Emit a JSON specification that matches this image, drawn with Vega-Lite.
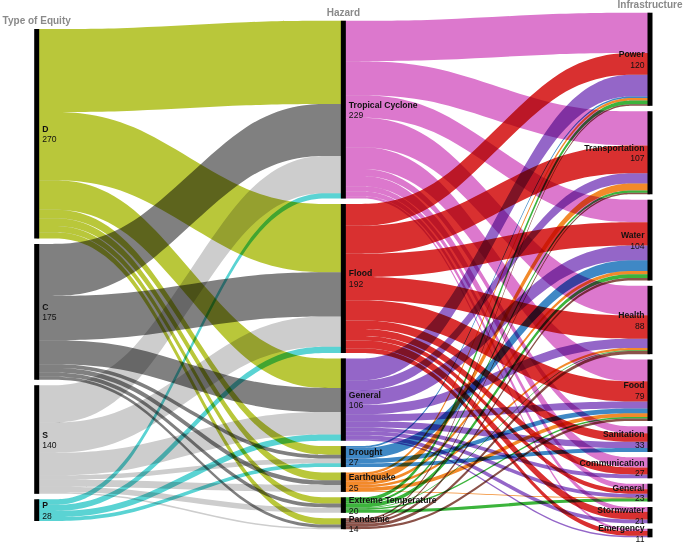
{
  "$schema": "https://vega.github.io/schema/vega-lite/v6.json",
  "width": 613.3,
  "height": 524.6,
  "autosize": {"type": "none"},
  "padding": {"left": 36.7, "right": 35, "top": 12.7, "bottom": 5.7},
  "background": "white",
  "config": {"view": {"stroke": null}},
  "data": {
    "values": [
      {"c": 0, "s": "D", "t": "Tropical Cyclone", "v": 107},
      {"c": 0, "s": "D", "t": "Flood", "v": 88},
      {"c": 0, "s": "D", "t": "General", "v": 38},
      {"c": 0, "s": "D", "t": "Drought", "v": 11},
      {"c": 0, "s": "D", "t": "Earthquake", "v": 10},
      {"c": 0, "s": "D", "t": "Extreme Temperature", "v": 8},
      {"c": 0, "s": "D", "t": "Pandemic", "v": 8},
      {"c": 0, "s": "C", "t": "Tropical Cyclone", "v": 67},
      {"c": 0, "s": "C", "t": "Flood", "v": 57},
      {"c": 0, "s": "C", "t": "General", "v": 31},
      {"c": 0, "s": "C", "t": "Drought", "v": 5},
      {"c": 0, "s": "C", "t": "Earthquake", "v": 6},
      {"c": 0, "s": "C", "t": "Extreme Temperature", "v": 5},
      {"c": 0, "s": "C", "t": "Pandemic", "v": 4},
      {"c": 0, "s": "S", "t": "Tropical Cyclone", "v": 48},
      {"c": 0, "s": "S", "t": "Flood", "v": 39},
      {"c": 0, "s": "S", "t": "General", "v": 29},
      {"c": 0, "s": "S", "t": "Drought", "v": 6},
      {"c": 0, "s": "S", "t": "Earthquake", "v": 9},
      {"c": 0, "s": "S", "t": "Extreme Temperature", "v": 7},
      {"c": 0, "s": "S", "t": "Pandemic", "v": 2},
      {"c": 0, "s": "P", "t": "Tropical Cyclone", "v": 7},
      {"c": 0, "s": "P", "t": "Flood", "v": 8},
      {"c": 0, "s": "P", "t": "General", "v": 8},
      {"c": 0, "s": "P", "t": "Drought", "v": 5},
      {"c": 1, "s": "Tropical Cyclone", "t": "Power", "v": 52},
      {"c": 1, "s": "Tropical Cyclone", "t": "Transportation", "v": 44},
      {"c": 1, "s": "Tropical Cyclone", "t": "Water", "v": 29},
      {"c": 1, "s": "Tropical Cyclone", "t": "Health", "v": 38},
      {"c": 1, "s": "Tropical Cyclone", "t": "Food", "v": 28},
      {"c": 1, "s": "Tropical Cyclone", "t": "Sanitation", "v": 9},
      {"c": 1, "s": "Tropical Cyclone", "t": "Communication", "v": 13},
      {"c": 1, "s": "Tropical Cyclone", "t": "General", "v": 7},
      {"c": 1, "s": "Tropical Cyclone", "t": "Stormwater", "v": 6},
      {"c": 1, "s": "Tropical Cyclone", "t": "Emergency", "v": 3},
      {"c": 1, "s": "Flood", "t": "Power", "v": 28},
      {"c": 1, "s": "Flood", "t": "Transportation", "v": 36},
      {"c": 1, "s": "Flood", "t": "Water", "v": 30},
      {"c": 1, "s": "Flood", "t": "Health", "v": 30},
      {"c": 1, "s": "Flood", "t": "Food", "v": 26},
      {"c": 1, "s": "Flood", "t": "Sanitation", "v": 11},
      {"c": 1, "s": "Flood", "t": "Communication", "v": 9},
      {"c": 1, "s": "Flood", "t": "General", "v": 6},
      {"c": 1, "s": "Flood", "t": "Stormwater", "v": 10},
      {"c": 1, "s": "Flood", "t": "Emergency", "v": 6},
      {"c": 1, "s": "General", "t": "Power", "v": 28},
      {"c": 1, "s": "General", "t": "Transportation", "v": 13},
      {"c": 1, "s": "General", "t": "Water", "v": 19},
      {"c": 1, "s": "General", "t": "Health", "v": 12},
      {"c": 1, "s": "General", "t": "Food", "v": 9},
      {"c": 1, "s": "General", "t": "Sanitation", "v": 8},
      {"c": 1, "s": "General", "t": "Communication", "v": 5},
      {"c": 1, "s": "General", "t": "General", "v": 5},
      {"c": 1, "s": "General", "t": "Stormwater", "v": 5},
      {"c": 1, "s": "General", "t": "Emergency", "v": 2},
      {"c": 1, "s": "Drought", "t": "Power", "v": 2},
      {"c": 1, "s": "Drought", "t": "Water", "v": 14},
      {"c": 1, "s": "Drought", "t": "Food", "v": 6},
      {"c": 1, "s": "Drought", "t": "Sanitation", "v": 5},
      {"c": 1, "s": "Earthquake", "t": "Power", "v": 3},
      {"c": 1, "s": "Earthquake", "t": "Transportation", "v": 9},
      {"c": 1, "s": "Earthquake", "t": "Water", "v": 4},
      {"c": 1, "s": "Earthquake", "t": "Health", "v": 3},
      {"c": 1, "s": "Earthquake", "t": "Food", "v": 5},
      {"c": 1, "s": "Earthquake", "t": "General", "v": 1},
      {"c": 1, "s": "Extreme Temperature", "t": "Power", "v": 5},
      {"c": 1, "s": "Extreme Temperature", "t": "Transportation", "v": 3},
      {"c": 1, "s": "Extreme Temperature", "t": "Water", "v": 5},
      {"c": 1, "s": "Extreme Temperature", "t": "Health", "v": 1},
      {"c": 1, "s": "Extreme Temperature", "t": "Food", "v": 2},
      {"c": 1, "s": "Extreme Temperature", "t": "General", "v": 4},
      {"c": 1, "s": "Pandemic", "t": "Power", "v": 2},
      {"c": 1, "s": "Pandemic", "t": "Transportation", "v": 2},
      {"c": 1, "s": "Pandemic", "t": "Water", "v": 3},
      {"c": 1, "s": "Pandemic", "t": "Health", "v": 4},
      {"c": 1, "s": "Pandemic", "t": "Food", "v": 3}
    ]
  },
  "transform": [
    {"window": [{"op": "row_number", "as": "lid"}]},
    {"calculate": "datum.s", "as": "src"},
    {"fold": ["s", "t"], "as": ["role", "name"]},
    {"calculate": "datum.role === 's' ? datum.c : datum.c + 1", "as": "col"},
    {"joinaggregate": [{"op": "sum", "field": "v", "as": "tot"}], "groupby": ["col", "name", "role"]},
    {"window": [{"op": "dense_rank", "as": "idx"}], "sort": [{"field": "tot", "order": "descending"}], "groupby": ["col"]},
    {"window": [{"op": "sum", "field": "v", "as": "cumIncl"}], "sort": [{"field": "tot", "order": "descending"}], "groupby": ["col", "role"], "frame": [null, 0], "ignorePeers": false},
    {"joinaggregate": [{"op": "max", "field": "idx", "as": "n"}], "groupby": ["col"]},
    {"calculate": "(10 - datum.n) * 7 / 2 + (datum.cumIncl - datum.tot) + 7 * (datum.idx - 1)", "as": "ntop"},
    {"calculate": "datum.role === 's' ? datum.tot : 0", "as": "sT"},
    {"calculate": "datum.role === 't' ? datum.tot : 0", "as": "tT"},
    {"joinaggregate": [{"op": "max", "field": "sT", "as": "srcTot"}, {"op": "max", "field": "tT", "as": "tgtTot"}], "groupby": ["lid"]},
    {"calculate": "datum.role === 's' ? datum.tgtTot : datum.srcTot", "as": "other"},
    {"window": [{"op": "sum", "field": "v", "as": "inner"}], "sort": [{"field": "other", "order": "descending"}], "groupby": ["col", "name", "role"], "frame": [null, 0], "ignorePeers": false},
    {"calculate": "datum.ntop + datum.inner - datum.v", "as": "ya"},
    {"calculate": "datum.ntop + datum.inner", "as": "yb"}
  ],
  "layer": [
    {
      "transform": [
        {"calculate": "datum.c", "as": "pa"},
        {"calculate": "datum.c + 1", "as": "pb"},
        {"fold": ["pa", "pb"], "as": ["k2", "n2"]},
        {"calculate": "datum.role === 's' ? (datum.k2 === 'pa' ? datum.c : datum.c + 0.3) : (datum.k2 === 'pa' ? datum.c + 1 : datum.c + 0.7)", "as": "px"}
      ],
      "mark": {"type": "area", "interpolate": "basis", "opacity": 1, "blend": "multiply"},
      "encoding": {
        "x": {"field": "px", "type": "quantitative", "scale": {"domain": [0, 2], "nice": false, "zero": false}, "axis": null},
        "y": {"field": "ya", "type": "quantitative", "scale": {"domain": [0, 676], "reverse": true, "nice": false, "zero": false}, "axis": null},
        "y2": {"field": "yb"},
        "color": {
          "field": "src",
          "type": "nominal",
          "legend": null,
          "scale": {
            "domain": ["D", "C", "S", "P", "Tropical Cyclone", "Flood", "General", "Drought", "Earthquake", "Extreme Temperature", "Pandemic"],
            "range": ["#b9c73a", "#808080", "#cdcdcd", "#5ad3d3", "#dc78cd", "#d93030", "#9466c8", "#3f88c5", "#f28a2a", "#3cb43c", "#8b5249"]
          }
        },
        "detail": {"field": "lid", "type": "nominal"}
      }
    },
    {
      "transform": [
        {"aggregate": [{"op": "min", "field": "ntop", "as": "top"}, {"op": "max", "field": "tot", "as": "tt"}], "groupby": ["col", "name"]},
        {"calculate": "datum.top + datum.tt", "as": "bot"}
      ],
      "mark": {"type": "rule", "strokeWidth": 5, "color": "#000000"},
      "encoding": {
        "x": {"field": "col", "type": "quantitative", "scale": {"domain": [0, 2]}},
        "y": {"field": "top", "type": "quantitative"},
        "y2": {"field": "bot"}
      }
    },
    {
      "transform": [
        {"aggregate": [{"op": "min", "field": "ntop", "as": "top"}, {"op": "max", "field": "tot", "as": "tt"}], "groupby": ["col", "name"]},
        {"calculate": "datum.top + datum.tt / 2", "as": "mid"},
        {"filter": "datum.col < 2"}
      ],
      "mark": {"type": "text", "align": "left", "baseline": "middle", "dx": 5.5, "dy": -5, "font": "Liberation Sans", "fontWeight": "bold", "fontSize": 8.6, "color": "#111111"},
      "encoding": {
        "x": {"field": "col", "type": "quantitative"},
        "y": {"field": "mid", "type": "quantitative"},
        "text": {"field": "name"}
      }
    },
    {
      "transform": [
        {"aggregate": [{"op": "min", "field": "ntop", "as": "top"}, {"op": "max", "field": "tot", "as": "tt"}], "groupby": ["col", "name"]},
        {"calculate": "datum.top + datum.tt / 2", "as": "mid"},
        {"filter": "datum.col < 2"}
      ],
      "mark": {"type": "text", "align": "left", "baseline": "middle", "dx": 5.5, "dy": 5.5, "font": "Liberation Sans", "fontSize": 8.6, "color": "#111111"},
      "encoding": {
        "x": {"field": "col", "type": "quantitative"},
        "y": {"field": "mid", "type": "quantitative"},
        "text": {"field": "tt", "type": "quantitative", "format": "d"}
      }
    },
    {
      "transform": [
        {"aggregate": [{"op": "min", "field": "ntop", "as": "top"}, {"op": "max", "field": "tot", "as": "tt"}], "groupby": ["col", "name"]},
        {"calculate": "datum.top + datum.tt / 2", "as": "mid"},
        {"filter": "datum.col == 2"}
      ],
      "mark": {"type": "text", "align": "right", "baseline": "middle", "dx": -5.5, "dy": -5, "font": "Liberation Sans", "fontWeight": "bold", "fontSize": 8.6, "color": "#111111"},
      "encoding": {
        "x": {"field": "col", "type": "quantitative"},
        "y": {"field": "mid", "type": "quantitative"},
        "text": {"field": "name"}
      }
    },
    {
      "transform": [
        {"aggregate": [{"op": "min", "field": "ntop", "as": "top"}, {"op": "max", "field": "tot", "as": "tt"}], "groupby": ["col", "name"]},
        {"calculate": "datum.top + datum.tt / 2", "as": "mid"},
        {"filter": "datum.col == 2"}
      ],
      "mark": {"type": "text", "align": "right", "baseline": "middle", "dx": -5.5, "dy": 5.5, "font": "Liberation Sans", "fontSize": 8.6, "color": "#111111"},
      "encoding": {
        "x": {"field": "col", "type": "quantitative"},
        "y": {"field": "mid", "type": "quantitative"},
        "text": {"field": "tt", "type": "quantitative", "format": "d"}
      }
    },
    {
      "transform": [
        {"aggregate": [{"op": "min", "field": "ntop", "as": "top"}], "groupby": ["col"]},
        {"calculate": "datum.col == 0 ? 'Type of Equity' : (datum.col == 1 ? 'Hazard' : 'Infrastructure')", "as": "title"}
      ],
      "mark": {"type": "text", "align": "center", "baseline": "middle", "dy": -7.5, "font": "Liberation Sans", "fontWeight": "bold", "fontSize": 10, "color": "#8a8a8a"},
      "encoding": {
        "x": {"field": "col", "type": "quantitative"},
        "y": {"field": "top", "type": "quantitative"},
        "text": {"field": "title"}
      }
    }
  ]
}
